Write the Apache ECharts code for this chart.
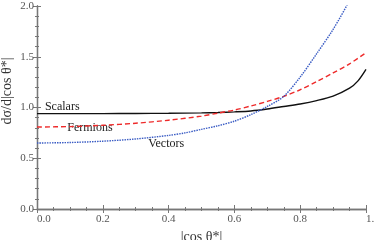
<!DOCTYPE html>
<html>
<head>
<meta charset="utf-8">
<script src="https://cdn.jsdelivr.net/npm/echarts@6/dist/echarts.min.js"></script>
<style>html,body{margin:0;padding:0;background:#fff;}#c{width:374px;height:240px;}</style>
</head>
<body>
<div id="c"></div>
<script>
var xTicks = [0, 0.2, 0.4, 0.6, 0.8, 1.0];
var yTicks = [0, 0.5, 1.0, 1.5, 2.0];

var scalarsX = [0, 0.1, 0.2, 0.3, 0.4, 0.5, 0.55, 0.6, 0.65, 0.7, 0.75, 0.8, 0.85, 0.9, 0.95, 0.975, 1.0];
var scalarsY = [0.940, 0.940, 0.940, 0.941, 0.943, 0.947, 0.951, 0.957, 0.966, 0.985, 1.010, 1.035, 1.068, 1.112, 1.190, 1.260, 1.376];

var fermionsX = [0, 0.1, 0.2, 0.3, 0.4, 0.5, 0.55, 0.6, 0.65, 0.7, 0.75, 0.8, 0.85, 0.9, 0.95, 1.0];
var fermionsY = [0.808, 0.812, 0.825, 0.845, 0.875, 0.915, 0.945, 0.975, 1.015, 1.060, 1.110, 1.175, 1.255, 1.340, 1.430, 1.540];

var vectorsX = [0, 0.1, 0.2, 0.3, 0.4, 0.45, 0.5, 0.55, 0.6, 0.65, 0.7, 0.75, 0.8, 0.85, 0.9, 0.95, 1.0];
var vectorsY = [0.650, 0.655, 0.668, 0.690, 0.725, 0.750, 0.785, 0.820, 0.865, 0.930, 1.010, 1.110, 1.300, 1.530, 1.770, 2.060, 2.450];

var curveLabels = [
  {text: 'Scalars', x: 0.024, y: 1.005},
  {text: 'Fermions', x: 0.092, y: 0.80},
  {text: 'Vectors', x: 0.338, y: 0.64}
];

function pairs(xs, ys) { return xs.map(function (x, i) { return [x, ys[i]]; }); }

var axisCol = '#777';
var serif = '"Liberation Serif", "DejaVu Serif", serif';
var chart = echarts.init(document.getElementById('c'));

var baseX = {
  type: 'value', min: 0, max: 1, interval: 0.2,
  axisLine: {show: true, lineStyle: {color: axisCol, width: 1.3}},
  axisTick: {show: true, inside: true, length: 4, lineStyle: {color: axisCol}},
  minorTick: {show: true, splitNumber: 4, length: 2, lineStyle: {color: axisCol}},
  splitLine: {show: false}
};
var baseY = {
  type: 'value', min: 0, max: 2, interval: 0.5,
  axisLine: {show: true, lineStyle: {color: axisCol, width: 1.3}},
  axisTick: {show: true, inside: true, length: 4, lineStyle: {color: axisCol}},
  minorTick: {show: true, splitNumber: 5, length: 2, lineStyle: {color: axisCol}},
  splitLine: {show: false}
};

var option = {
  animation: false,
  grid: {left: 37, right: 8, top: 6, bottom: 31, containLabel: false, outerBoundsMode: 'none'},
  xAxis: [
    Object.assign({}, baseX, {
      position: 'bottom',
      name: '|cos θ*|', nameLocation: 'middle', nameGap: 13,
      nameTextStyle: {fontFamily: serif, fontSize: 14, color: '#333'},
      axisLabel: {show: true, margin: 5, fontFamily: serif, fontSize: 11, color: '#555',
        alignMinLabel: 'left', alignMaxLabel: 'left',
        formatter: function (v) { return v.toFixed(1); }}
    }),
    Object.assign({}, baseX, {position: 'top', axisLabel: {show: false}})
  ],
  yAxis: [
    Object.assign({}, baseY, {
      position: 'left',
      axisLabel: {show: true, margin: 3, fontFamily: serif, fontSize: 11, color: '#555',
        formatter: function (v) { return v.toFixed(1); }}
    }),
    Object.assign({}, baseY, {position: 'right', axisLabel: {show: false}})
  ],
  series: [
    {name: 'Scalars', type: 'line', data: pairs(scalarsX, scalarsY), smooth: 0.3, showSymbol: false, clip: true,
      lineStyle: {color: '#111', width: 1.4, type: 'solid'}},
    {name: 'Fermions', type: 'line', data: pairs(fermionsX, fermionsY), smooth: 0.3, showSymbol: false, clip: true,
      lineStyle: {color: '#ee2a2a', width: 1.4, type: [5, 3]}},
    {name: 'Vectors', type: 'line', data: pairs(vectorsX, vectorsY), smooth: 0.3, showSymbol: false, clip: true,
      lineStyle: {color: '#3a5cc4', width: 1.4, type: [1.5, 1]}}
  ]
};
chart.setOption(option);

var gfx = curveLabels.map(function (l) {
  var p = chart.convertToPixel({xAxisIndex: 0, yAxisIndex: 0}, [l.x, l.y]);
  return {type: 'text', x: p[0], y: p[1],
    style: {text: l.text, fill: '#222', font: '12px ' + serif, textAlign: 'left', textVerticalAlign: 'middle'}};
});
gfx.push({type: 'text', x: 7, y: 91, rotation: Math.PI / 2,
  style: {text: 'dσ/d|cos θ*|', fill: '#333', font: '14px ' + serif, textAlign: 'center', textVerticalAlign: 'middle'}});
chart.setOption({graphic: gfx});
</script>
</body>
</html>
